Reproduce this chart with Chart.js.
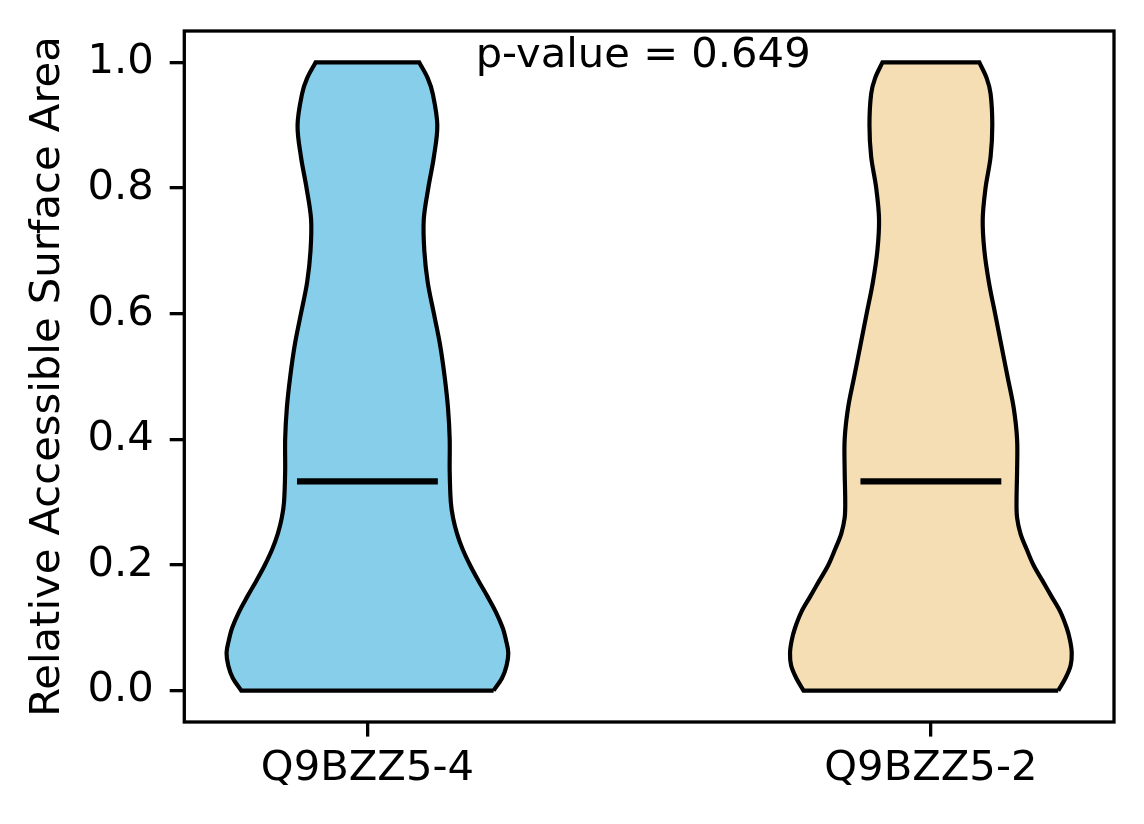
<!DOCTYPE html>
<html>
<head>
<meta charset="utf-8">
<script src="https://cdn.jsdelivr.net/npm/chart.js@4.4.1/dist/chart.umd.min.js"></script>
<style>
  html, body { margin: 0; padding: 0; background: #fff; }
  #chart { display: block; }
</style>
</head>
<body>
<canvas id="chart" width="1144" height="824"></canvas>
<script>
// two groups, placed at x = 1 and x = 2
const categories = ['Q9BZZ5-4', 'Q9BZZ5-2'];
const positions = [1, 2];
const medians = [0.333, 0.333];
const pValue = 0.649;

// violin outlines: y level -> half width (in x units)
const levels = [0, 0.02, 0.04, 0.06, 0.08, 0.10, 0.125, 0.15, 0.175, 0.20, 0.225, 0.25, 0.275, 0.30,
                0.35, 0.40, 0.45, 0.50, 0.55, 0.60, 0.65, 0.70, 0.75, 0.80, 0.85, 0.90, 0.95, 0.975, 1.0];
const halfWidth1 = [0.224, 0.239, 0.247, 0.250, 0.246, 0.240, 0.228, 0.213, 0.197, 0.182, 0.169, 0.159, 0.152, 0.148,
                    0.146, 0.146, 0.143, 0.137, 0.129, 0.118, 0.107, 0.101, 0.100, 0.108, 0.118, 0.124, 0.116, 0.107, 0.092];
const halfWidth2 = [0.226, 0.239, 0.248, 0.250, 0.247, 0.241, 0.230, 0.214, 0.198, 0.182, 0.170, 0.159, 0.153, 0.152,
                    0.153, 0.153, 0.147, 0.136, 0.125, 0.114, 0.103, 0.095, 0.092, 0.097, 0.106, 0.109, 0.106, 0.099, 0.086];

const yTicks = [0, 0.2, 0.4, 0.6, 0.8, 1.0];
const fills = ['#87CEEB', '#F5DEB3'];
const FONT = 'DejaVu Sans';
const FSIZE = 41.7;

// closed outline: right side up, left side down; corners doubled so smoothing keeps them sharp
function outline(pos, widths) {
    const n = levels.length - 1;
    const right = levels.map((y, i) => ({x: pos + widths[i], y: y}));
    const left = levels.map((y, i) => ({x: pos - widths[i], y: y})).reverse();
    return [...right, right[n], ...left.slice(0, 1), ...left, left[n], right[0]];
}

const datasets = [];
positions.forEach((pos, i) => {
    datasets.push({
        data: [{x: pos - 0.125, y: medians[i]}, {x: pos + 0.125, y: medians[i]}],
        borderColor: '#000',
        borderWidth: 6.25,
        borderCapStyle: 'butt',
        showLine: true,
        pointRadius: 0,
        fill: false,
        order: 0
    });
});
positions.forEach((pos, i) => {
    datasets.push({
        data: outline(pos, i == 0 ? halfWidth1 : halfWidth2),
        borderColor: '#000',
        borderWidth: 4.2,
        borderJoinStyle: 'miter',
        backgroundColor: fills[i],
        showLine: true,
        tension: 0.35,
        pointRadius: 0,
        fill: 'shape',
        order: 1
    });
});

const frame = {
    id: 'frame',
    afterDatasetsDraw(chart) {
        const {ctx, chartArea: a} = chart;
        ctx.save();
        ctx.strokeStyle = '#000';
        ctx.lineWidth = 3.3;
        ctx.strokeRect(a.left, a.top, a.right - a.left, a.bottom - a.top);
        ctx.restore();
    }
};

const pLabel = {
    id: 'pLabel',
    afterDraw(chart) {
        const {ctx, chartArea: a, scales} = chart;
        ctx.save();
        ctx.font = FSIZE + 'px "' + FONT + '"';
        ctx.fillStyle = '#000';
        ctx.textAlign = 'center';
        ctx.textBaseline = 'alphabetic';
        ctx.fillText('p-value = ' + pValue.toFixed(3), scales.x.getPixelForValue(1.5) - 6, a.top + 36);
        ctx.restore();
    }
};

const gridOpts = {
    drawOnChartArea: false,
    drawTicks: true,
    tickLength: 14.6,
    lineWidth: 3.3,
    tickWidth: 3.3,
    color: '#000',
    tickColor: '#000'
};

new Chart(document.getElementById('chart'), {
    type: 'scatter',
    data: { datasets: datasets },
    options: {
        responsive: false,
        animation: false,
        layout: { padding: { top: 31, right: 30, left: 0, bottom: 0 } },
        plugins: {
            legend: { display: false },
            tooltip: { enabled: false }
        },
        scales: {
            x: {
                type: 'linear',
                min: 0.675,
                max: 2.325,
                afterBuildTicks: s => { s.ticks = positions.map(v => ({value: v})); },
                afterFit: s => { s.height = 102; s.paddingLeft = 0; s.paddingRight = 0; },
                ticks: {
                    callback: (v, idx) => categories[idx],
                    font: { family: FONT, size: FSIZE },
                    color: '#000',
                    padding: 8,
                    maxRotation: 0,
                    autoSkip: false
                },
                grid: gridOpts,
                border: { display: false }
            },
            y: {
                type: 'linear',
                min: -0.05,
                max: 1.05,
                afterBuildTicks: s => { s.ticks = yTicks.map(v => ({value: v})); },
                afterFit: s => { s.width = 184.3; s.paddingTop = 0; s.paddingBottom = 0; },
                ticks: {
                    callback: v => v.toFixed(1),
                    font: { family: FONT, size: FSIZE },
                    color: '#000',
                    padding: 16
                },
                grid: gridOpts,
                border: { display: false },
                title: {
                    display: true,
                    text: 'Relative Accessible Surface Area',
                    font: { family: FONT, size: FSIZE, lineHeight: 1.2 },
                    color: '#000',
                    padding: { top: 23, bottom: 0 }
                }
            }
        }
    },
    plugins: [frame, pLabel]
});
</script>
</body>
</html>
